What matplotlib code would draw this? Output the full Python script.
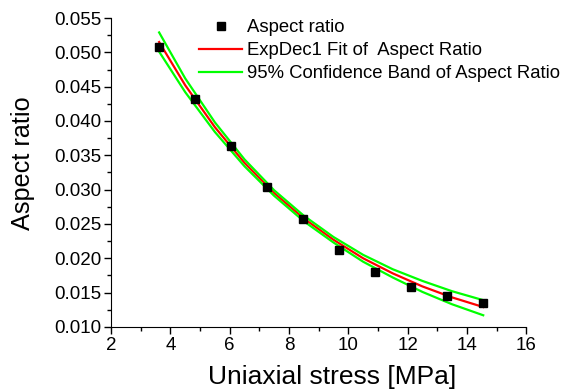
import numpy as np
import matplotlib
matplotlib.use('Agg')
from matplotlib import pyplot as plt
from matplotlib.ticker import MultipleLocator, FormatStrFormatter

# measured points
stress = [3.62, 4.83, 6.05, 7.26, 8.48, 9.69, 10.9, 12.12, 13.34, 14.55]
aspect = [0.0508, 0.0432, 0.0364, 0.0304, 0.0257, 0.0212, 0.0180, 0.0158, 0.0145, 0.0135]

# fit curve and confidence band
fit_x = [3.62, 4.5, 5.5, 6.5, 7.5, 8.5, 9.5, 10.5, 11.5, 12.5, 13.5, 14.55]
fit_y = [0.0515, 0.0452, 0.0391, 0.0339, 0.0295, 0.0258, 0.0227, 0.0200, 0.0178, 0.0159, 0.0143, 0.0129]
band_hi = [0.0529, 0.0462, 0.0398, 0.0344, 0.0299, 0.0262, 0.0231, 0.0205, 0.0184, 0.0167, 0.0152, 0.0139]
band_lo = [0.0501, 0.0442, 0.0384, 0.0334, 0.0291, 0.0254, 0.0223, 0.0195, 0.0172, 0.0151, 0.0133, 0.0117]

plt.rcParams['font.family'] = ['Liberation Sans', 'DejaVu Sans']

fig = plt.figure(figsize=(5.64, 3.92), dpi=100)
ax = fig.add_axes([0.197, 0.166, 0.736, 0.788])

ax.plot(stress, aspect, 's', color='black', markersize=5.8, label='Aspect ratio', zorder=3)
ax.plot(fit_x, fit_y, color='#ff0000', lw=1.6, label='ExpDec1 Fit of  Aspect Ratio')
ax.plot(fit_x, band_hi, color='#00ff00', lw=1.6, label='95% Confidence Band of Aspect Ratio')
ax.plot(fit_x, band_lo, color='#00ff00', lw=1.6)

ax.set_xlim(2, 16)
ax.set_ylim(0.010, 0.055)
ax.xaxis.set_major_locator(MultipleLocator(2))
ax.xaxis.set_minor_locator(MultipleLocator(1))
ax.yaxis.set_major_locator(MultipleLocator(0.005))
ax.yaxis.set_minor_locator(MultipleLocator(0.0025))
ax.yaxis.set_major_formatter(FormatStrFormatter('%.3f'))

ax.spines['top'].set_visible(False)
ax.spines['right'].set_visible(False)
ax.tick_params(which='major', direction='out', length=5, width=1, labelsize=13.5, pad=2)
ax.tick_params(which='minor', direction='out', length=3, width=1)

ax.set_xlabel('Uniaxial stress [MPa]', fontsize=19)
ax.set_ylabel('Aspect ratio', fontsize=18.2)
ax.xaxis.set_label_coords(0.533, -0.124)
ax.yaxis.set_label_coords(-0.183, 0.53)

ax.legend(loc='upper right', bbox_to_anchor=(1.10, 1.02), frameon=False, fontsize=13.3,
          handlelength=2.3, handletextpad=0.3, labelspacing=0.32, borderaxespad=0)

fig.savefig('out.png', dpi=100)
